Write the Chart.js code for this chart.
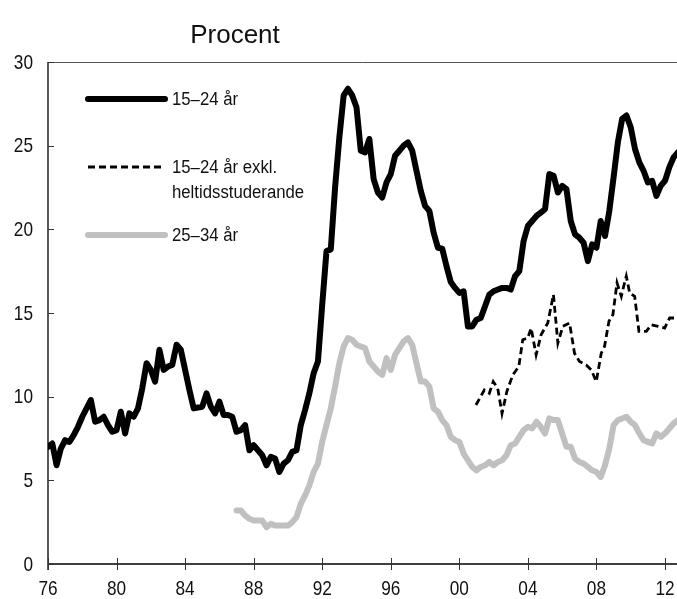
<!DOCTYPE html>
<html lang="sv">
<head>
<meta charset="UTF-8">
<title>Arbetslöshet</title>
<script src="https://cdn.jsdelivr.net/npm/chart.js"></script>
<style>
  html, body { margin: 0; padding: 0; background: #fff; }
  #wrap { width: 677px; height: 599px; }
</style>
</head>
<body>
<div id="wrap"><canvas id="chart" width="677" height="599"></canvas></div>
<script>
// quarterly data, 15-24 år, from 1976 Q1
const youthStart = 1976;
const youth = [
  7.0, 7.2, 5.9, 6.9,   7.4, 7.3, 7.7, 8.2,   8.8, 9.3, 9.8, 8.5,   8.6, 8.8, 8.3, 7.9,
  8.0, 9.1, 7.8, 9.0,   8.8, 9.3, 10.5, 12.0, 11.6, 10.9, 12.8, 11.6, 11.8, 11.9, 13.1, 12.8,
  11.6, 10.4, 9.3, 9.35, 9.4, 10.2, 9.4, 9.0,  9.7, 8.9, 8.9, 8.8,   7.9, 8.0, 8.3, 6.8,
  7.1, 6.8, 6.5, 5.9,   6.4, 6.3, 5.5, 6.0,   6.2, 6.7, 6.8, 8.3,   9.2, 10.2, 11.4, 12.1,
  15.5, 18.7, 18.8, 22.5, 25.5, 28.0, 28.4, 28.0, 27.3, 24.7, 24.6, 25.4, 23.0, 22.2, 21.9, 22.8,
  23.3, 24.4, 24.7, 25.0, 25.2, 24.7, 23.5, 22.3, 21.4, 21.1, 19.8, 18.9, 18.85, 17.8, 16.85, 16.5,
  16.2, 16.3, 14.2, 14.2, 14.6, 14.7, 15.4, 16.1, 16.3, 16.4, 16.5, 16.5, 16.4, 17.2, 17.5, 19.3,
  20.2, 20.5, 20.8, 21.0, 21.2, 23.3, 23.2, 22.2, 22.6, 22.4, 20.5, 19.7, 19.5, 19.2, 18.1, 19.1,
  18.9, 20.5, 19.6, 21.1, 23.1, 25.2, 26.6, 26.8, 26.1, 24.8, 24.0, 23.5, 22.8, 22.9, 22.0, 22.6,
  22.9, 23.7, 24.3, 24.6
];

// quarterly data, 25-34 år, from 1987 Q1
const adultStart = 1987;
const adult = [
  3.2, 3.2, 2.9, 2.7,   2.6, 2.6, 2.6, 2.2,   2.4, 2.3, 2.3, 2.3,   2.3, 2.5, 2.8, 3.6,
  4.1, 4.7, 5.5, 6.0,   7.3, 8.3, 9.3, 10.6,  12.0, 13.0, 13.5, 13.4, 13.1, 13.0, 12.9, 12.1,
  11.8, 11.5, 11.3, 12.3, 11.6, 12.5, 12.9, 13.3, 13.5, 13.1, 12.0, 10.9, 10.9, 10.6, 9.3, 9.1,
  8.6, 8.3, 7.6, 7.4,   7.3, 6.6, 6.2, 5.8,   5.6, 5.8, 5.9, 6.1,   5.9, 6.1, 6.2, 6.5,
  7.1, 7.2, 7.6, 8.0,   8.2, 8.1, 8.5, 8.2,   7.8, 8.7, 8.6, 8.6,   7.8, 7.0, 7.0, 6.3,
  6.1, 6.0, 5.8, 5.6,   5.5, 5.2, 5.9, 6.9,   8.3, 8.6, 8.7, 8.8,   8.5, 8.3, 7.8, 7.4,
  7.3, 7.2, 7.8, 7.6,   7.8, 8.1, 8.4, 8.6
];

// 15-24 år exkl. heltidsstuderande (irregular sampling)
const excYears = [
  2000.97, 2001.46, 2001.75, 2001.98, 2002.24, 2002.49, 2002.77, 2003.12, 2003.47, 2003.70,
  2003.99, 2004.19, 2004.48, 2004.77, 2005.16, 2005.49, 2005.75, 2006.04, 2006.43, 2006.72,
  2007.01, 2007.40, 2007.70, 2007.99, 2008.28, 2008.47, 2008.73, 2008.96, 2009.20, 2009.45,
  2009.59, 2009.74, 2009.94, 2010.23, 2010.48, 2010.91, 2011.20, 2011.60, 2011.98, 2012.27, 2012.70
];
const excValues = [
  9.5, 10.4, 10.2, 10.9, 10.5, 9.0, 10.3, 11.3, 11.8, 13.4,
  13.5, 14.1, 12.5, 13.7, 14.4, 16.1, 13.2, 14.2, 14.4, 12.6,
  12.1, 11.9, 11.6, 10.9, 12.6, 13.0, 14.5, 14.9, 16.8, 16.0,
  16.6, 17.2, 16.2, 16.0, 13.9, 13.9, 14.3, 14.2, 14.1, 14.7, 14.7
];

const xTicks = [1976, 1980, 1984, 1988, 1992, 1996, 2000, 2004, 2008, 2012];
const yTicks = [0, 5, 10, 15, 20, 25, 30];

const legendItems = [
  { lines: ['15–24 år'], color: '#000', width: 6, dash: [] },
  { lines: ['15–24 år exkl.', 'heltidsstuderande'], color: '#000', width: 2.8, dash: [7, 4] },
  { lines: ['25–34 år'], color: '#c0c0c0', width: 6, dash: [] }
];

const sans = '"Liberation Sans", Arial, sans-serif';

const quarterly = (start, arr) => arr.map((v, i) => ({ x: start + i / 4, y: v }));

// condensed look: squeeze a regular sans horizontally
function narrowText(ctx, text, x, y, size, squeeze, align) {
  ctx.save();
  ctx.translate(x, y);
  ctx.scale(squeeze, 1);
  ctx.font = size + 'px ' + sans;
  ctx.textAlign = align;
  ctx.textBaseline = 'middle';
  ctx.fillText(text, 0, 0);
  ctx.restore();
}

const decor = {
  id: 'decor',
  afterDraw(chart) {
    const ctx = chart.ctx;
    const a = chart.chartArea;
    const xs = chart.scales.x, ys = chart.scales.y;
    ctx.save();
    // top frame line
    ctx.strokeStyle = '#555';
    ctx.lineWidth = 1;
    ctx.beginPath();
    ctx.moveTo(a.left, a.top + 0.5);
    ctx.lineTo(a.right, a.top + 0.5);
    ctx.stroke();
    // axes
    ctx.strokeStyle = '#000';
    ctx.lineWidth = 1.3;
    ctx.beginPath();
    ctx.moveTo(a.left, a.top);
    ctx.lineTo(a.left, a.bottom + 6);
    ctx.moveTo(a.left, a.bottom);
    ctx.lineTo(a.right, a.bottom);
    ctx.stroke();
    // tick marks + labels
    ctx.lineWidth = 1;
    ctx.strokeStyle = '#333';
    ctx.beginPath();
    xTicks.forEach(t => {
      const px = Math.round(xs.getPixelForValue(t)) + 0.5;
      ctx.moveTo(px, a.bottom - 6);
      ctx.lineTo(px, a.bottom + 6);
    });
    yTicks.forEach(t => {
      const py = Math.round(ys.getPixelForValue(t)) + 0.5;
      ctx.moveTo(a.left, py);
      ctx.lineTo(a.left + 6, py);
    });
    ctx.stroke();
    ctx.fillStyle = '#111';
    xTicks.forEach(t => {
      narrowText(ctx, String(t % 100).padStart(2, '0'), xs.getPixelForValue(t), a.bottom + 25, 21, 0.82, 'center');
    });
    yTicks.forEach(t => {
      narrowText(ctx, String(t), a.left - 15, ys.getPixelForValue(t) + 1, 21, 0.82, 'right');
    });
    // title
    ctx.font = '26px ' + sans;
    ctx.textAlign = 'center';
    ctx.textBaseline = 'alphabetic';
    ctx.fillText('Procent', 235, 43);
    // legend
    const lx0 = a.left + 40, lx1 = a.left + 117;
    const rows = [99, 167, 235];
    legendItems.forEach((it, i) => {
      const y = rows[i];
      ctx.strokeStyle = it.color;
      ctx.lineWidth = it.width;
      ctx.lineCap = it.dash.length ? 'butt' : 'round';
      ctx.setLineDash(it.dash);
      ctx.beginPath();
      ctx.moveTo(lx0, y);
      ctx.lineTo(lx1, y);
      ctx.stroke();
      ctx.setLineDash([]);
      ctx.fillStyle = '#111';
      it.lines.forEach((t, j) => narrowText(ctx, t, lx1 + 7, y + 1 + j * 25, 18, 0.93, 'left'));
    });
    ctx.restore();
  }
};

new Chart(document.getElementById('chart'), {
  type: 'line',
  data: {
    datasets: [
      {
        label: '25–34 år',
        data: quarterly(adultStart, adult),
        borderColor: '#c0c0c0',
        borderWidth: 6,
        borderJoinStyle: 'round',
        borderCapStyle: 'round'
      },
      {
        label: '15–24 år exkl. heltidsstuderande',
        data: excYears.map((x, i) => ({ x, y: excValues[i] })),
        borderColor: '#000',
        borderWidth: 2.8,
        borderDash: [7, 4]
      },
      {
        label: '15–24 år',
        data: quarterly(youthStart, youth),
        borderColor: '#000',
        borderWidth: 6,
        borderJoinStyle: 'round',
        borderCapStyle: 'round'
      }
    ]
  },
  options: {
    responsive: false,
    animation: false,
    devicePixelRatio: 1,
    layout: { padding: { top: 62, right: 0, left: 0, bottom: 0 } },
    elements: { point: { radius: 0 }, line: { tension: 0 } },
    plugins: {
      legend: { display: false },
      tooltip: { enabled: false },
      title: { display: false }
    },
    scales: {
      x: {
        type: 'linear',
        min: 1976,
        max: 2012.7,
        afterFit(s) { s.height = 35; s.paddingLeft = 0; s.paddingRight = 0; },
        afterBuildTicks(s) { s.ticks = xTicks.map(v => ({ value: v })); },
        grid: { display: false, drawTicks: false },
        border: { display: false },
        ticks: { display: false }
      },
      y: {
        min: 0,
        max: 30,
        afterFit(s) { s.width = 48; s.paddingTop = 0; s.paddingBottom = 0; },
        afterBuildTicks(s) { s.ticks = yTicks.map(v => ({ value: v })); },
        grid: { display: false, drawTicks: false },
        border: { display: false },
        ticks: { display: false }
      }
    }
  },
  plugins: [decor]
});
</script>
</body>
</html>
